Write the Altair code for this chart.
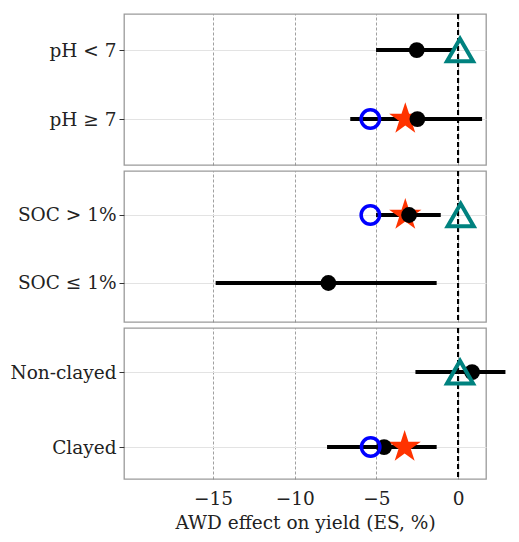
import altair as alt
import pandas as pd

groups = ["pH", "pH", "SOC", "SOC", "Clay", "Clay"]
categories = ["pH < 7", "pH ≥ 7", "SOC > 1%", "SOC ≤ 1%", "Non-clayed", "Clayed"]
es_mean = [-2.53, -2.49, -3.0, -7.94, 0.86, -4.53]
ci_low = [-5.02, -6.6, -5.02, -14.84, -2.61, -8.02]
ci_high = [-0.3, 1.47, -1.06, -1.31, 2.9, -1.31]
blue_vals = [None, -5.37, -5.37, None, None, -5.35]
star_vals = [None, -3.23, -3.23, None, None, -3.27]
tri_vals = [0.12, None, 0.16, None, 0.12, None]

x_ticks = [-15, -10, -5, 0]
x_domain = [-20.45, 1.71]

df = pd.DataFrame({
    "group": groups, "cat": categories, "es": es_mean,
    "lo": ci_low, "hi": ci_high, "blue": blue_vals,
    "star": star_vals, "tri": tri_vals,
})

STAR = ("M0,-1L0.2245,-0.309L0.951,-0.309L0.363,0.118L0.588,0.809L0,0.382"
        "L-0.588,0.809L-0.363,0.118L-0.951,-0.309L-0.2245,-0.309Z")

FONT = "DejaVu Serif"
panel_pad = {"pH": (0.594, 0.44), "SOC": (0.61, 0.53), "Clay": (0.507, 0.58)}


def panel(g, bottom):
    d = df[df["group"] == g]
    order = list(d["cat"])
    pad, align = panel_pad[g]
    if bottom:
        xaxis = alt.Axis(values=x_ticks, title="AWD effect on yield (ES, %)",
                         ticks=False, domain=False, labelPadding=10,
                         titlePadding=6, grid=True)
    else:
        xaxis = alt.Axis(values=x_ticks, labels=False, ticks=False,
                         domain=False, title=None, grid=True)
    xs = alt.Scale(domain=x_domain, nice=False, zero=False)
    ys = alt.Scale(type="point", domain=order, padding=pad, align=align)
    yenc = alt.Y("cat:N", scale=ys, sort=order,
                 axis=alt.Axis(title=None, domain=False, tickSize=5,
                               tickColor="#333", labelPadding=3, grid=True))
    base = alt.Chart(d)
    err = base.mark_rule(color="black", strokeWidth=4, clip=False).encode(
        x=alt.X("lo:Q", scale=xs, axis=xaxis), x2="hi:Q", y=yenc)
    zero = base.mark_rule(color="black", strokeWidth=2,
                          strokeDash=[5, 3]).encode(
        x=alt.datum(0, scale=xs))
    star = base.mark_point(shape=STAR, filled=True, color="#FF3300",
                           opacity=1, size=1150).encode(
        x=alt.X("star:Q", scale=xs), y=yenc)
    dot = base.mark_circle(color="black", opacity=1, size=250).encode(
        x=alt.X("es:Q", scale=xs), y=yenc)
    blue = base.mark_point(shape="circle", filled=False, color="#0000FF",
                           strokeWidth=3.5, opacity=1, size=340).encode(
        x=alt.X("blue:Q", scale=xs), y=yenc)
    tri = base.mark_point(shape="triangle-up", filled=False, color="#00827F",
                          strokeWidth=4, opacity=1, size=680).encode(
        x=alt.X("tri:Q", scale=xs), y=yenc)
    return alt.layer(err, zero, star, dot, blue, tri).properties(
        width=362, height=151)


chart = alt.vconcat(
    panel("pH", False), panel("SOC", False), panel("Clay", True),
    spacing=2,
).properties(
    padding={"left": 1, "top": 4, "right": 0, "bottom": 0}
).configure_view(
    stroke="#9a9a9a", strokeWidth=1.3
).configure_axis(
    labelFont=FONT, titleFont=FONT, labelFontSize=18.5, titleFontSize=18.5,
    labelColor="#222", titleColor="#222", titleFontWeight="normal",
).configure_axisX(
    gridColor="#888", gridDash=[3, 2], gridWidth=0.8,
).configure_axisY(
    gridColor="#e3e3e3", gridWidth=1.2,
)

chart.save("out.html", embed_options={"renderer": "svg", "actions": False})
